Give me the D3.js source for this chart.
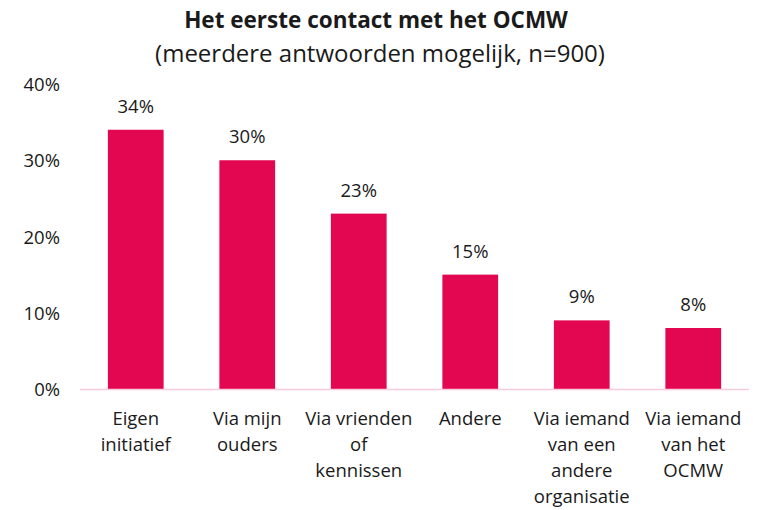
<!DOCTYPE html>
<html>
<head>
<meta charset="utf-8">
<style>
  html, body { margin: 0; padding: 0; background: #fff; }
  text { font-family: "Open Sans", sans-serif; fill: #1a1a1a; }
</style>
</head>
<body>
<div id="chart"></div>
<script src="https://cdn.jsdelivr.net/npm/d3@7"></script>
<script>
// category labels, line breaks as in the original chart
const categories = ["Eigen\ninitiatief", "Via mijn\nouders", "Via vrienden\nof\nkennissen", "Andere",
                    "Via iemand\nvan een\nandere\norganisatie", "Via iemand\nvan het\nOCMW"];
const values = [34, 30, 23, 15, 9, 8];
const yTicks = [0, 10, 20, 30, 40];

const width = 758, height = 510;
const margin = { top: 84, right: 9, bottom: 121, left: 80 };

const svg = d3.select('#chart').append('svg')
    .attr('width', width)
    .attr('height', height);

const x = d3.scaleBand()
    .domain(categories)
    .range([margin.left, width - margin.right])
    .paddingInner(0.5)
    .paddingOuter(0.25);

const y = d3.scaleLinear()
    .domain([0, 40])
    .range([height - margin.bottom, margin.top]);

// title
svg.append('text')
    .attr('x', 376).attr('y', 28)
    .attr('text-anchor', 'middle')
    .style('font-size', '22.5px').style('font-weight', 'bold')
    .text('Het eerste contact met het OCMW');
svg.append('text')
    .attr('x', 380).attr('y', 62)
    .attr('text-anchor', 'middle')
    .style('font-size', '24px')
    .text('(meerdere antwoorden mogelijk, n=900)');

// y axis labels
svg.append('g')
    .selectAll('text')
    .data(yTicks)
    .join('text')
    .attr('x', 60)
    .attr('y', d => y(d) + 7)
    .attr('text-anchor', 'end')
    .style('font-size', '18.5px')
    .text(d => d + '%');

// bars
svg.append('g')
    .selectAll('rect')
    .data(values)
    .join('rect')
    .attr('x', (d, i) => x(categories[i]))
    .attr('y', d => y(d))
    .attr('width', x.bandwidth())
    .attr('height', d => y(0) - y(d))
    .attr('fill', '#e30752');

// baseline
svg.append('line')
    .attr('x1', margin.left).attr('x2', width - margin.right)
    .attr('y1', y(0) + 0.5).attr('y2', y(0) + 0.5)
    .attr('stroke', '#f9ccda').attr('stroke-width', 1.5);

// value labels
svg.append('g')
    .selectAll('text')
    .data(values)
    .join('text')
    .attr('x', (d, i) => x(categories[i]) + x.bandwidth() / 2)
    .attr('y', d => y(d) - 17)
    .attr('text-anchor', 'middle')
    .style('font-size', '18.5px')
    .text(d => d + '%');

// category labels
svg.append('g')
    .selectAll('text')
    .data(categories)
    .join('text')
    .attr('x', d => x(d) + x.bandwidth() / 2)
    .attr('y', 425)
    .attr('text-anchor', 'middle')
    .style('font-size', '18.5px')
    .each(function(d) {
        const t = d3.select(this);
        d.split('\n').forEach((line, i) => {
            t.append('tspan')
                .attr('x', t.attr('x'))
                .attr('dy', i === 0 ? 0 : 26)
                .text(line);
        });
    });
</script>
</body>
</html>
